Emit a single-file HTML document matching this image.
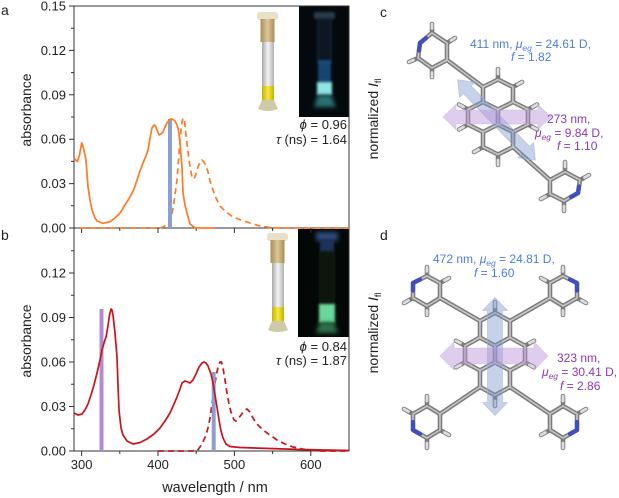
<!DOCTYPE html>
<html><head><meta charset="utf-8">
<style>
html,body{margin:0;padding:0;background:#fff;}
body{width:619px;height:498px;overflow:hidden;}
svg{display:block;font-family:"Liberation Sans","DejaVu Sans",sans-serif;}
</style></head>
<body>
<svg width="619" height="498" viewBox="0 0 619 498" xmlns="http://www.w3.org/2000/svg">
<defs>
<filter id="bl" x="-50%" y="-50%" width="200%" height="200%"><feGaussianBlur stdDeviation="1.4"/></filter>
<filter id="bl2" x="-50%" y="-50%" width="200%" height="200%"><feGaussianBlur stdDeviation="2.2"/></filter>
<linearGradient id="tan" x1="0" x2="1" y1="0" y2="0"><stop offset="0" stop-color="#a88c58"/><stop offset="0.5" stop-color="#dcc898"/><stop offset="1" stop-color="#a88c58"/></linearGradient>
<linearGradient id="glass" x1="0" x2="1" y1="0" y2="0"><stop offset="0" stop-color="#a8a8a8"/><stop offset="0.5" stop-color="#f4f4f4"/><stop offset="1" stop-color="#b0b0b0"/></linearGradient>
<linearGradient id="yel" x1="0" x2="1" y1="0" y2="0"><stop offset="0" stop-color="#c4b400"/><stop offset="0.5" stop-color="#f4e844"/><stop offset="1" stop-color="#c4b400"/></linearGradient>
</defs>
<rect width="619" height="498" fill="#fff"/>

<g font-size="14" fill="#222">
<text x="1" y="15">a</text>
<text x="1" y="240">b</text>
<text x="380" y="17">c</text>
<text x="380" y="240">d</text>
</g>

<!-- ===== Photos ===== -->
<g>
<rect x="257" y="12" width="21" height="8" rx="3" fill="#e9e0c8"/>
<rect x="260.5" y="19" width="14" height="23" fill="url(#tan)"/>
<rect x="262" y="42" width="12" height="45" fill="url(#glass)"/>
<rect x="262" y="86" width="12" height="16" fill="url(#yel)"/>
<path d="M262,100 L258,109 Q268,113 278,109 L274,100Z" fill="#cfc9a8"/>
</g>
<g transform="translate(10,221)">
<rect x="257" y="12" width="21" height="8" rx="3" fill="#e9e0c8"/>
<rect x="260.5" y="19" width="14" height="23" fill="url(#tan)"/>
<rect x="262" y="42" width="12" height="45" fill="url(#glass)"/>
<rect x="262" y="86" width="12" height="16" fill="url(#yel)"/>
<path d="M262,100 L258,109 Q268,113 278,109 L274,100Z" fill="#cfc9a8"/>
</g>
<rect x="299" y="6" width="50" height="111" fill="#04090d"/>
<g>
<rect x="314" y="12" width="21" height="7" rx="2" fill="#2a3a48" filter="url(#bl)"/>
<rect x="318" y="19" width="13" height="44" fill="#0a1620" stroke="#1a2e3e" stroke-width="1" filter="url(#bl)"/>
<rect x="318" y="60" width="13" height="23" fill="#1f5a96" opacity="0.75" filter="url(#bl)"/>
<rect x="317" y="82" width="15" height="13" fill="#8fe4e4" filter="url(#bl)"/>
<path d="M318,95 L314,107 L336,107 L331,95Z" fill="#2a7070" filter="url(#bl2)"/>
</g>
<rect x="298" y="229" width="51" height="108" fill="#030806"/>
<g>
<rect x="316" y="232" width="22" height="9" rx="2" fill="#2f4a7a" filter="url(#bl2)"/>
<rect x="320" y="240" width="14" height="12" fill="#1f3258" filter="url(#bl)"/>
<rect x="320" y="252" width="14" height="53" fill="#07120c" stroke="#12281a" stroke-width="1" filter="url(#bl)"/>
<rect x="319" y="304" width="16" height="19" fill="#6ad89a" filter="url(#bl)"/>
<path d="M320,322 L316,333 L338,333 L334,322Z" fill="#2a6e48" filter="url(#bl2)"/>
</g>

<!-- ===== Axes ===== -->
<g stroke="#333" stroke-width="1" fill="none">
<rect x="74" y="6" width="275" height="222"/>
<path d="M74,228 V451 H349 V228"/>
<path d="M69,228H74M69,183.6H74M69,139.2H74M69,94.8H74M69,50.4H74M69,6H74M71,205.8H74M71,161.4H74M71,117H74M71,72.6H74M71,28.2H74"/>
<path d="M69,451H74M69,406.5H74M69,362H74M69,317.5H74M69,273H74M71,428.75H74M71,384.25H74M71,339.75H74M71,295.25H74M71,250.75H74"/>
<path d="M81.6,228V233M158,228V233M234.4,228V233M310.8,228V233M119.8,228V231M196.2,228V231M272.6,228V231"/>
<path d="M81.6,451V456M158,451V456M234.4,451V456M310.8,451V456M119.8,451V454M196.2,451V454M272.6,451V454"/>
</g>
<g font-size="13" fill="#222" text-anchor="end">
<text x="66" y="232.5">0.00</text>
<text x="66" y="188.1">0.03</text>
<text x="66" y="143.7">0.06</text>
<text x="66" y="99.3">0.09</text>
<text x="66" y="54.9">0.12</text>
<text x="66" y="10.5">0.15</text>
<text x="66" y="455.5">0.00</text>
<text x="66" y="411">0.03</text>
<text x="66" y="366.5">0.06</text>
<text x="66" y="322">0.09</text>
<text x="66" y="277.5">0.12</text>
</g>
<g font-size="13" fill="#222" text-anchor="middle">
<text x="81.6" y="469">300</text>
<text x="158" y="469">400</text>
<text x="234.4" y="469">500</text>
<text x="310.8" y="469">600</text>
</g>
<text x="215" y="492" font-size="14.5" fill="#222" text-anchor="middle">wavelength / nm</text>
<text transform="translate(31,110) rotate(-90)" font-size="14" fill="#222" text-anchor="middle">absorbance</text>
<text transform="translate(31,341) rotate(-90)" font-size="14" fill="#222" text-anchor="middle">absorbance</text>

<!-- ===== top series ===== -->
<polyline fill="none" stroke="#ff7a22" stroke-width="1.7" stroke-linejoin="round" stroke-dasharray="6,4"
points="80,228 160,228 163,227 168,224 171,219 173,208 175,195 177,180 178.5,160 180,140 181.5,125 183,118 184.5,121 186,135 188,152 190,167 192,177 194,179 196,174 198,167 200,162 202,160 204,162 206,166 208,172 210,181 213,190 216,198 220,206 226,212 233,217 241,220 250,223 260,226 270,227.5 280,228 349,228"/>
<rect x="168" y="119" width="4" height="109" fill="#8b9fd2"/>
<polyline fill="none" stroke="#ff7a22" stroke-width="1.7" stroke-linejoin="round"
points="74,158 77.3,161.7 79.5,155 81.7,142.7 83.5,148 86,160 88,187 90,200 92,210 94.5,217 97,221 103,223.3 110,221.7 115,218 120,213 125,205 130,197 134,189 137,180 140,171 143,163 146,156 148,150 150,138 152,128 154,125 155.5,126 157,130 159,135 161,134 163,132 165,127 167,123 169,120 171,119 173,119.5 175,121 177,125 178,128 179,134 180,143 181,155 182,167 183,193 185,205 187,213 190,224 195,227.7 200,228 214,228"/>

<!-- ===== bottom series ===== -->
<polyline fill="none" stroke="#c8141a" stroke-width="1.7" stroke-linejoin="round" stroke-dasharray="6,4"
points="158,451 197,451 200,447 203,442 206,435 208,428 210,418 212,404 214,390 216,377 218,367 220,362 221.5,362 223,368 225,380 227,393 229,404 231,412 234,420 236,421 238,419 241,415 244,411 247,409 250,412 253,418 257,424 263,430 270,435 277,440 285,444 293,447 307,450 320,451 349,451"/>
<rect x="99.5" y="309" width="4" height="142" fill="#b38ad6"/>
<rect x="211.7" y="372" width="4" height="79" fill="#8b9fd2"/>
<polyline fill="none" stroke="#c8141a" stroke-width="1.7" stroke-linejoin="round"
points="74,413 78,415 82,414 85,410 88,404 91,395 94,385 97,373 100,360 102,350 104,343 106,337 108,326 109.5,315 111,309 112,310 113,315 115,333 117,357 118,385 119,410 121,428 123,435 127,441 133,444 140,442.5 147,439 154,434 160,428 165,421 170,413 174,404 177,397 180,389 182,383 185,381 188,382 190,383 193,380 196,374 199,367 202,363 204,362 206,363 208,366 211,374 213,383 215,395 217,407 219,420 221,431 223,438 226,444 230,446.5 240,447.5 270,448.5 300,449.5 349,450.5"/>

<g font-size="13" fill="#222" text-anchor="end">
<text x="347" y="129"><tspan font-style="italic">ϕ</tspan> = 0.96</text>
<text x="347" y="144"><tspan font-style="italic">τ</tspan> (ns) = 1.64</text>
<text x="347" y="351"><tspan font-style="italic">ϕ</tspan> = 0.84</text>
<text x="347" y="365"><tspan font-style="italic">τ</tspan> (ns) = 1.87</text>
</g>

<text transform="translate(378,119) rotate(-90)" font-size="14" fill="#222" text-anchor="middle">normalized <tspan font-style="italic">I</tspan><tspan font-size="9" dy="3">fl</tspan></text>
<text transform="translate(378,333) rotate(-90)" font-size="14" fill="#222" text-anchor="middle">normalized <tspan font-style="italic">I</tspan><tspan font-size="9" dy="3">fl</tspan></text>

<!-- ===== molecule c ===== -->
<g fill="none" stroke-linecap="round" stroke-linejoin="round">
<path stroke="#7c7c7c" stroke-width="4.6" d="M498,79.5 L513,87 L513,102 L498,109.5 L483,102 L483,87 Z M483,102 L468,109.5 L468,124.5 L483,132 L498,124.5 L498,109.5 M513,102 L528,109.5 L528,124.5 L513,132 L498,124.5 M513,132 L513,147 L498,154.5 L483,147 L483,132 M483,87 L447,60 M513,147 L550,180 M432,33 L447,43 L447,60 L432,68 L418,58 L420,43 Z M550,180 L565,172 L580,180 L578,193 L564,201 L550,194 Z M498,79.5 L498,69 M513,87 L522,82 M468,109.5 L459,104.5 M468,124.5 L459,129.5 M528,109.5 L537,104.5 M528,124.5 L537,129.5 M498,154.5 L498,165 M483,147 L474,152 M432,33 L432,24 M447,43 L455,38 M432,68 L432,77 M418,58 L409,62 M565,172 L565,162 M580,180 L589,175 M564,201 L564,211 M550,194 L541,199"/>
<path stroke="#c6c6c6" stroke-width="1.6" d="M498,79.5 L513,87 L513,102 L498,109.5 L483,102 L483,87 Z M483,102 L468,109.5 L468,124.5 L483,132 L498,124.5 L498,109.5 M513,102 L528,109.5 L528,124.5 L513,132 L498,124.5 M513,132 L513,147 L498,154.5 L483,147 L483,132 M483,87 L447,60 M513,147 L550,180 M432,33 L447,43 L447,60 L432,68 L418,58 L420,43 Z M550,180 L565,172 L580,180 L578,193 L564,201 L550,194 Z"/>
<path stroke="#dcdcdc" stroke-width="2.8" d="M498,74 L498,69 M517.5,84.5 L522,82 M463.5,107 L459,104.5 M463.5,127 L459,129.5 M532.5,107 L537,104.5 M532.5,127 L537,129.5 M498,160 L498,165 M478.5,149.5 L474,152 M432,28.5 L432,24 M451,40.5 L455,38 M432,72.5 L432,77 M413.5,60 L409,62 M565,167 L565,162 M584.5,177.5 L589,175 M564,206 L564,211 M545.5,196.5 L541,199"/>
<path stroke="#3e4fbf" stroke-width="4.2" d="M426,38 L420,43 L419,50.5 M579,186.5 L578,193 L571,197"/>
</g>
<g transform="translate(496.5,120) rotate(46)">
<polygon points="-56,0 -42,-11 -42,-5.5 42,-5.5 42,-11 56,0 42,11 42,5.5 -42,5.5 -42,11" fill="rgba(120,148,205,0.42)" stroke="rgba(160,180,220,0.6)" stroke-width="0.8"/>
</g>
<g transform="translate(497,117)">
<polygon points="-54,0 -41,-12.5 -41,-7 41,-7 41,-12.5 54,0 41,12.5 41,7 -41,7 -41,12.5" fill="rgba(185,145,215,0.45)" stroke="rgba(205,180,225,0.6)" stroke-width="0.8"/>
</g>

<!-- ===== molecule d ===== -->
<g fill="none" stroke-linecap="round" stroke-linejoin="round">
<path stroke="#7c7c7c" stroke-width="4.6" d="M495,312.75 L510,321 L510,337.5 L495,345.75 L480,337.5 L480,321 Z M480,337.5 L465,345.75 L465,362.25 L480,370.5 L495,362.25 L495,345.75 M510,337.5 L525,345.75 L525,362.25 L510,370.5 L495,362.25 M510,370.5 L510,387 L495,395.25 L480,387 L480,370.5 M480,321 L440,298 M510,321 L550,298 M480,387 L440,414 M510,387 L550,414 M440,298 L440,283 L427,276 L413,283 L413,298 L427,306 Z M550,298 L550,283 L563,276 L577,283 L577,298 L563,306 Z M440,414 L427,406 L413,414 L413,430 L427,438 L440,430 Z M550,414 L563,406 L577,414 L577,430 L563,438 L550,430 Z M495,312.75 L495,302 M465,345.75 L456,340.75 M465,362.25 L456,367.25 M525,345.75 L534,340.75 M525,362.25 L534,367.25 M495,395.25 L495,406 M427,276 L427,267 M440,283 L449,278 M413,298 L404,303 M427,306 L427,315 M563,276 L563,267 M550,283 L541,278 M577,298 L586,303 M563,306 L563,315 M427,406 L427,396 M413,414 L404,409 M427,438 L427,448 M440,430 L449,435 M563,406 L563,396 M577,414 L586,409 M563,438 L563,448 M550,430 L541,435"/>
<path stroke="#c6c6c6" stroke-width="1.6" d="M495,312.75 L510,321 L510,337.5 L495,345.75 L480,337.5 L480,321 Z M480,337.5 L465,345.75 L465,362.25 L480,370.5 L495,362.25 L495,345.75 M510,337.5 L525,345.75 L525,362.25 L510,370.5 L495,362.25 M510,370.5 L510,387 L495,395.25 L480,387 L480,370.5 M480,321 L440,298 M510,321 L550,298 M480,387 L440,414 M510,387 L550,414 M440,298 L440,283 L427,276 L413,283 L413,298 L427,306 Z M550,298 L550,283 L563,276 L577,283 L577,298 L563,306 Z M440,414 L427,406 L413,414 L413,430 L427,438 L440,430 Z M550,414 L563,406 L577,414 L577,430 L563,438 L550,430 Z"/>
<path stroke="#dcdcdc" stroke-width="2.8" d="M495,307 L495,302 M460.5,343 L456,340.75 M460.5,365 L456,367.25 M529.5,343 L534,340.75 M529.5,365 L534,367.25 M495,401 L495,406 M427,271.5 L427,267 M444.5,280.5 L449,278 M408.5,300.5 L404,303 M427,310.5 L427,315 M563,271.5 L563,267 M545.5,280.5 L541,278 M581.5,300.5 L586,303 M563,310.5 L563,315 M427,401 L427,396 M408.5,411.5 L404,409 M427,443 L427,448 M444.5,432.5 L449,435 M563,401 L563,396 M581.5,411.5 L586,409 M563,443 L563,448 M545.5,432.5 L541,435"/>
<path stroke="#3e4fbf" stroke-width="4.2" d="M420,279.5 L413,283 L413,290.5 M570,279.5 L577,283 L577,290.5 M413,422 L413,430 L420,434 M577,422 L577,430 L570,434"/>
</g>
<g transform="translate(495,356.5) rotate(90)">
<polygon points="-59,0 -46,-12.5 -46,-7.5 46,-7.5 46,-12.5 59,0 46,12.5 46,7.5 -46,7.5 -46,12.5" fill="rgba(120,148,205,0.42)" stroke="rgba(160,180,220,0.6)" stroke-width="0.8"/>
</g>
<g transform="translate(494,356)">
<polygon points="-54,0 -40,-14 -40,-8 40,-8 40,-14 54,0 40,14 40,8 -40,8 -40,14" fill="rgba(185,145,215,0.45)" stroke="rgba(205,180,225,0.6)" stroke-width="0.8"/>
</g>

<g font-size="12">
<text x="470" y="48" fill="#4a7fd8">411 nm, <tspan font-style="italic">μ</tspan><tspan font-style="italic" font-size="8.5" dy="3">eg</tspan><tspan dy="-3"> = 24.61 D,</tspan></text>
<text x="511" y="61" fill="#4a7fd8"><tspan font-style="italic">f</tspan> = 1.82</text>
<text x="547" y="123" fill="#8a38b2">273 nm,</text>
<text x="535" y="137" fill="#8a38b2"><tspan font-style="italic">μ</tspan><tspan font-style="italic" font-size="8.5" dy="3">eg</tspan><tspan dy="-3"> = 9.84 D,</tspan></text>
<text x="557" y="150" fill="#8a38b2"><tspan font-style="italic">f</tspan> = 1.10</text>

<text x="433" y="263" fill="#4a7fd8">472 nm, <tspan font-style="italic">μ</tspan><tspan font-style="italic" font-size="8.5" dy="3">eg</tspan><tspan dy="-3"> = 24.81 D,</tspan></text>
<text x="474" y="277" fill="#4a7fd8"><tspan font-style="italic">f</tspan> = 1.60</text>
<text x="557" y="362" fill="#8a38b2">323 nm,</text>
<text x="542" y="376" fill="#8a38b2"><tspan font-style="italic">μ</tspan><tspan font-style="italic" font-size="8.5" dy="3">eg</tspan><tspan dy="-3"> = 30.41 D,</tspan></text>
<text x="560" y="390" fill="#8a38b2"><tspan font-style="italic">f</tspan> = 2.86</text>
</g>
</svg>
</body></html>
